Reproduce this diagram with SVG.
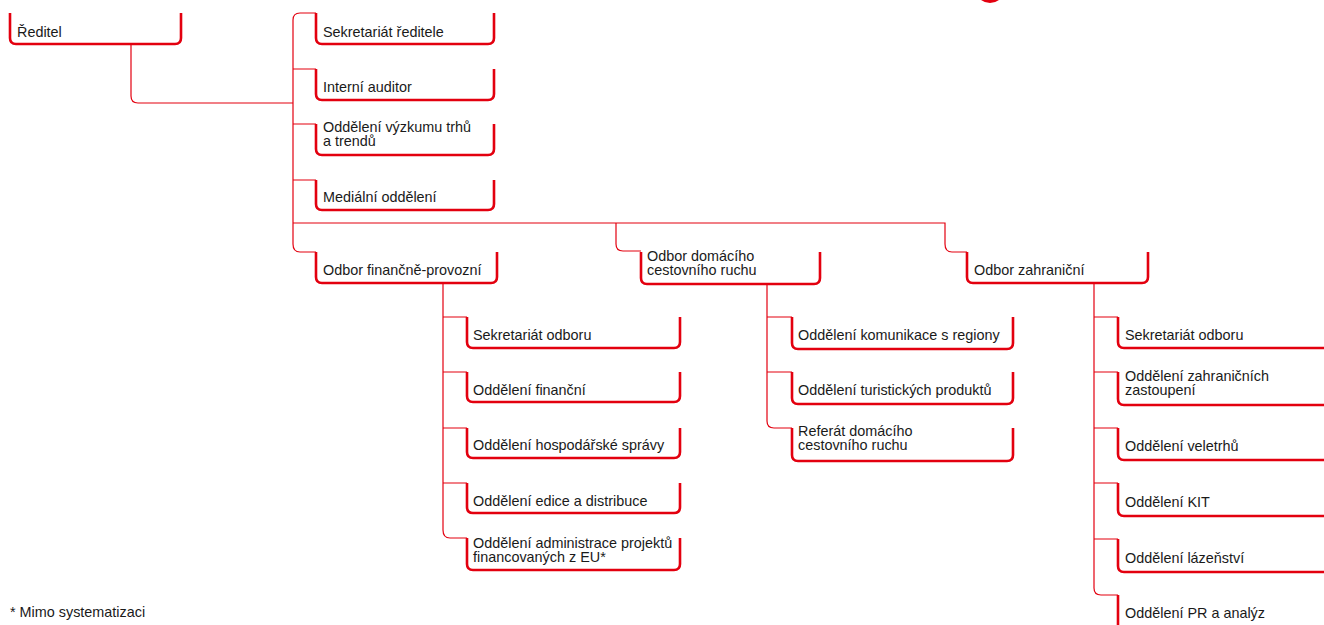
<svg xmlns="http://www.w3.org/2000/svg" width="1324" height="625" viewBox="0 0 1324 625">
<style>
.n{fill:none;stroke:#e3000f;stroke-width:2.6;stroke-linejoin:round}
.c{fill:none;stroke:#e3000f;stroke-width:1.2}
text{font-family:"Liberation Sans",Arial,Helvetica,sans-serif;font-size:14.4px;fill:#1a1a1a}
</style>
<rect width="1324" height="625" fill="#fff"/>
<circle cx="990" cy="-12" r="15" fill="#e3000f"/>
<g id="connectors">
<path class="c" d="M131,44 V96 Q131,103 138,103 H293"/>
<path class="c" d="M316,13 H300 Q293,13 293,20 V244 Q293,252 300,252 H316"/>
<path class="c" d="M293,69 H316 M293,124 H316 M293,180 H316"/>
<path class="c" d="M293,223 H945 V244 Q945,252 952,252 H967"/>
<path class="c" d="M616,223 V244 Q616,251 623,251 H641"/>
<path class="c" d="M443,283 V530 Q443,538 450,538 H467 M443,317 H467 M443,372 H467 M443,428 H467 M443,483 H467"/>
<path class="c" d="M767,284 V421 Q767,428 774,428 H792 M767,317 H792 M767,372 H792"/>
<path class="c" d="M1094,283 V588 Q1094,595 1101,595 H1118 M1094,317 H1118 M1094,372 H1118 M1094,428 H1118 M1094,483 H1118 M1094,539 H1118"/>
</g>
<g id="reditel"><path class="n" d="M10,13 V38 Q10,44 16,44 H175 Q181,44 181,38 V13"/><text x="17" y="37">Ředitel</text></g>
<g id="sekretariat-reditele"><path class="n" d="M316,13 V38 Q316,44 322,44 H488 Q494,44 494,38 V13"/><text x="323" y="37">Sekretariát ředitele</text></g>
<g id="interni-auditor"><path class="n" d="M316,69 V94 Q316,100 322,100 H488 Q494,100 494,94 V69"/><text x="323" y="92">Interní auditor</text></g>
<g id="vyzkum"><path class="n" d="M316,124 V149 Q316,155 322,155 H488 Q494,155 494,149 V124"/><text x="323" y="132">Oddělení výzkumu trhů</text><text x="323" y="146">a trendů</text></g>
<g id="medialni"><path class="n" d="M316,180 V204 Q316,210 322,210 H488 Q494,210 494,204 V180"/><text x="323" y="202">Mediální oddělení</text></g>
<g id="odbor-fin"><path class="n" d="M316,252 V277 Q316,283 322,283 H491 Q497,283 497,277 V252"/><text x="323" y="275">Odbor finančně-provozní</text></g>
<g id="odbor-dom"><path class="n" d="M641,252 V278 Q641,284 647,284 H814 Q820,284 820,278 V252"/><text x="647" y="261">Odbor domácího</text><text x="647" y="275">cestovního ruchu</text></g>
<g id="odbor-zahr"><path class="n" d="M967,252 V277 Q967,283 973,283 H1142 Q1148,283 1148,277 V252"/><text x="974" y="275">Odbor zahraniční</text></g>
<g id="fin-sekretariat"><path class="n" d="M467,317 V342 Q467,348 473,348 H674 Q680,348 680,342 V317"/><text x="473" y="340">Sekretariát odboru</text></g>
<g id="fin-financni"><path class="n" d="M467,372 V396 Q467,402 473,402 H674 Q680,402 680,396 V372"/><text x="473" y="395">Oddělení finanční</text></g>
<g id="fin-hospodarske"><path class="n" d="M467,428 V452 Q467,458 473,458 H674 Q680,458 680,452 V428"/><text x="473" y="450">Oddělení hospodářské správy</text></g>
<g id="fin-edice"><path class="n" d="M467,483 V507 Q467,513 473,513 H674 Q680,513 680,507 V483"/><text x="473" y="506">Oddělení edice a distribuce</text></g>
<g id="fin-eu"><path class="n" d="M467,538 V564 Q467,570 473,570 H674 Q680,570 680,564 V538"/><text x="473" y="548">Oddělení administrace projektů</text><text x="473" y="562">financovaných z EU*</text></g>
<g id="dom-komunikace"><path class="n" d="M792,317 V343 Q792,349 798,349 H1007 Q1013,349 1013,343 V317"/><text x="798" y="340">Oddělení komunikace s regiony</text></g>
<g id="dom-produkty"><path class="n" d="M792,372 V398 Q792,404 798,404 H1007 Q1013,404 1013,398 V372"/><text x="798" y="395">Oddělení turistických produktů</text></g>
<g id="dom-referat"><path class="n" d="M792,428 V455 Q792,461 798,461 H1007 Q1013,461 1013,455 V428"/><text x="798" y="436">Referát domácího</text><text x="798" y="450">cestovního ruchu</text></g>
<g id="zahr-sekretariat"><path class="n" d="M1118,317 V342 Q1118,348 1124,348 H1340"/><text x="1125" y="340">Sekretariát odboru</text></g>
<g id="zahr-zastoupeni"><path class="n" d="M1118,372 V399 Q1118,405 1124,405 H1340"/><text x="1125" y="381">Oddělení zahraničních</text><text x="1125" y="395">zastoupení</text></g>
<g id="zahr-veletrhy"><path class="n" d="M1118,428 V454 Q1118,460 1124,460 H1340"/><text x="1125" y="451">Oddělení veletrhů</text></g>
<g id="zahr-kit"><path class="n" d="M1118,483 V510 Q1118,516 1124,516 H1340"/><text x="1125" y="507">Oddělení KIT</text></g>
<g id="zahr-lazenstvi"><path class="n" d="M1118,539 V566 Q1118,572 1124,572 H1340"/><text x="1125" y="563">Oddělení lázeňství</text></g>
<g id="zahr-pr"><path class="n" d="M1118,595 V640"/><text x="1125" y="618">Oddělení PR a analýz</text></g>
<text x="10" y="617">* Mimo systematizaci</text>
</svg>
